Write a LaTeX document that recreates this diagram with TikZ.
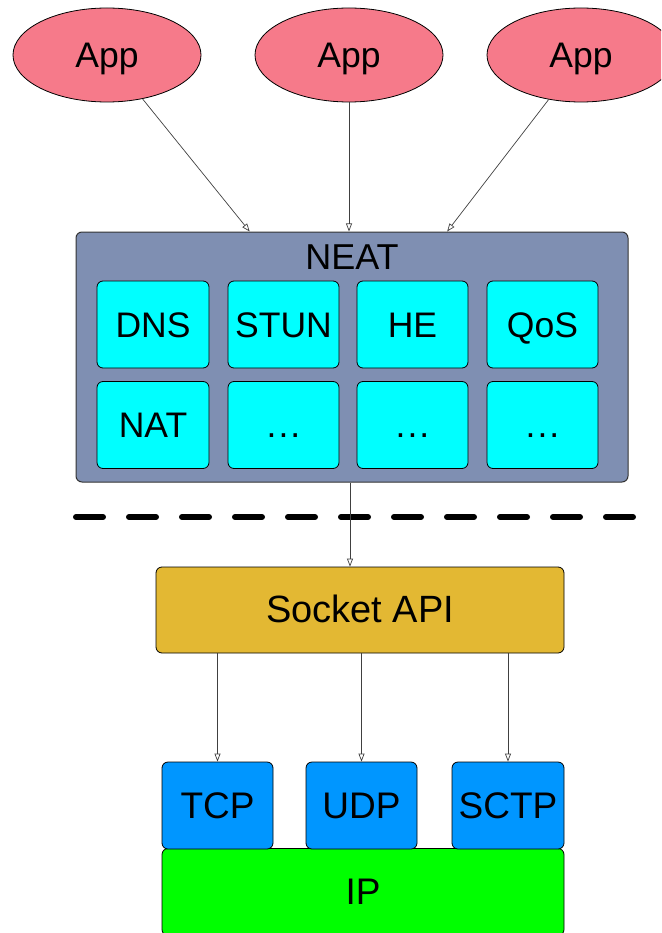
\documentclass[tikz,border=0pt]{standalone}
\usepackage{fontspec}
\setmainfont{Liberation Sans}
\usetikzlibrary{shapes.geometric,arrows.meta,calc}
\definecolor{appc}{RGB}{246,122,138}
\definecolor{neatc}{RGB}{127,143,178}
\definecolor{cyanc}{RGB}{0,255,255}
\definecolor{goldc}{RGB}{227,184,51}
\definecolor{bluec}{RGB}{0,150,255}
\definecolor{greenc}{RGB}{0,255,0}
\begin{document}
\begin{tikzpicture}[x=1pt,y=-1pt,
  lbl/.style={font=\fontsize{35.5}{40}\selectfont, text height=25pt, text depth=0pt, inner sep=0pt},
  app/.style={ellipse, draw=black, line width=0.8pt, fill=appc, minimum width=188pt, minimum height=94pt, lbl},
  box/.style={rectangle, rounded corners=6pt, draw=black, line width=0.8pt, lbl},
  inner/.style={box, fill=cyanc, minimum height=87pt},
  proto/.style={box, fill=bluec, minimum height=87pt, font=\fontsize{37}{40}\selectfont},
  conn/.style={draw=black!75, line width=0.7pt, -{Triangle[open,length=8pt,width=6pt]}}]
\useasboundingbox (0,0) rectangle (661,933);
\clip (0,0) rectangle (661,933);

% Apps
\node[app] (app1) at (107,55) {App};
\node[app] (app2) at (349,55) {App};
\node[app] (app3) at (581,55) {App};

% NEAT container
\node[box, fill=neatc, draw=black!80, line width=1pt, minimum width=552pt, minimum height=250pt] (neat) at (352,357) {};
\node[lbl, font=\fontsize{36}{40}\selectfont] (neatlbl) at (352,256.5) {NEAT};

% inner modules
\node[inner, minimum width=112pt] (dns)  at (153,324.5) {DNS};
\node[inner, minimum width=111pt] (stun) at (283.5,324.5) {STUN};
\node[inner, minimum width=111pt] (he)   at (412.5,324.5) {HE};
\node[inner, minimum width=111pt] (qos)  at (542.5,324.5) {QoS};
\node[inner, minimum width=112pt] (nat)  at (153,425) {NAT};
\node[inner, minimum width=111pt] (d1)   at (283.5,425) {.\kern2pt.\kern2pt.};
\node[inner, minimum width=111pt] (d2)   at (412.5,425) {.\kern2pt.\kern2pt.};
\node[inner, minimum width=111pt] (d3)   at (542.5,425) {.\kern2pt.\kern2pt.};

% separator
\draw[line width=6pt, line cap=round, dash pattern=on 27pt off 26pt] (76,517) -- (634,517);

% Socket API
\node[box, fill=goldc, minimum width=408pt, minimum height=86pt, font=\fontsize{38}{40}\selectfont] (sock) at (360,610) {Socket API};

% IP and transports
\node[box, fill=greenc, minimum width=402pt, minimum height=87pt, font=\fontsize{37}{40}\selectfont] (ip) at (363,892) {IP};
\node[proto, minimum width=111pt] (tcp)  at (217.5,805.5) {TCP};
\node[proto, minimum width=111pt] (udp)  at (361.5,805.5) {UDP};
\node[proto, minimum width=112pt] (sctp) at (508,805.5) {SCTP};

% connectors
\coordinate (n1) at ($(neat.north west)!0.315!(neat.north east)$);
\coordinate (n3) at ($(neat.north west)!0.672!(neat.north east)$);
\draw[conn] (app1.-51) -- (n1);
\draw[conn] (app2.south) -- (app2.south |- neat.north);
\draw[conn] (app3.-126) -- (n3);

\coordinate (ns) at ($(neat.south)+(-2,0)$);
\draw[conn] (ns) -- (ns |- sock.north);

\draw[conn] (sock.south -| tcp.north) -- (tcp.north);
\draw[conn] (sock.south -| udp.north) -- (udp.north);
\draw[conn] (sock.south -| sctp.north) -- (sctp.north);
\end{tikzpicture}
\end{document}
